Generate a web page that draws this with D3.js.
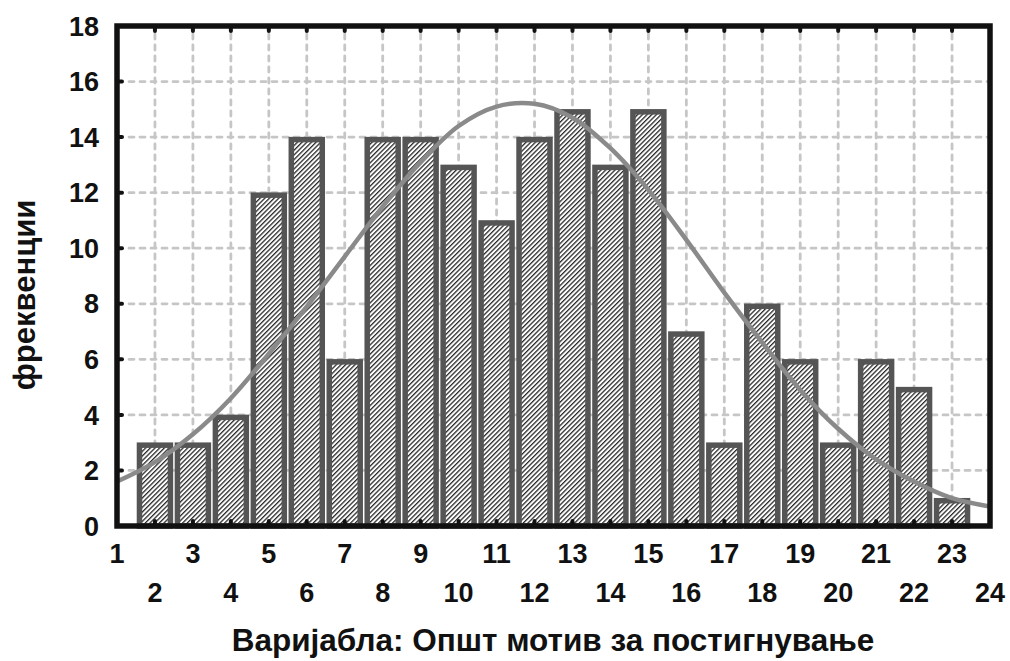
<!DOCTYPE html>
<html>
<head>
<meta charset="utf-8">
<script src="https://cdn.jsdelivr.net/npm/d3@7"></script>
<style>
  html, body { margin: 0; padding: 0; background: #fff; }
  svg { display: block; }
  text { font-family: "Liberation Sans", Arial, sans-serif; font-weight: bold; fill: #111; }
</style>
</head>
<body>
<svg id="chart" width="1010" height="661"></svg>
<script>
// Score classes (bin centres) and their frequencies
const scores = [2, 3, 4, 5, 6, 7, 8, 9, 10, 11, 12, 13, 14, 15, 16, 17, 18, 19, 20, 21, 22, 23];
const counts = [3, 3, 4, 12, 14, 6, 14, 14, 13, 11, 14, 15, 13, 15, 7, 3, 8, 6, 3, 6, 5, 1];

// Fitted normal curve, sampled at each integer score
const curveX = [1, 2, 3, 4, 5, 6, 7, 8, 9, 10, 11, 12, 13, 14, 15, 16, 17, 18, 19, 20, 21, 22, 23, 24];
const curveY = [1.6, 2.3, 3.3, 4.6, 6.2, 7.9, 9.7, 11.5, 13.1, 14.4, 15.1, 15.2, 14.7, 13.6, 12.1, 10.3, 8.4, 6.6, 4.9, 3.5, 2.4, 1.6, 1.0, 0.7];

// Axis ticks
const xTicks = d3.range(1, 25);
const yTicks = [0, 2, 4, 6, 8, 10, 12, 14, 16, 18];
const gridX = d3.range(2, 24);
const gridY = [2, 4, 6, 8, 10, 12, 14, 16];

const xTitle = "Варијабла: Општ мотив за постигнување";
const yTitle = "фреквенции";

const svg = d3.select("#chart");
const pLeft = 117, pRight = 990, pTop = 26, pBottom = 526;

const x = d3.scaleLinear().domain([1, 24]).range([pLeft, pRight]);
const y = d3.scaleLinear().domain([0, 18]).range([pBottom, pTop]);

// Diagonal hatch fill for the bars
const defs = svg.append("defs");
const pat = defs.append("pattern")
  .attr("id", "hatch")
  .attr("patternUnits", "userSpaceOnUse")
  .attr("width", 3.3).attr("height", 3.3)
  .attr("patternTransform", "rotate(45)");
pat.append("rect").attr("width", 3.3).attr("height", 3.3).attr("fill", "#fff");
pat.append("rect").attr("x", 0).attr("y", 0).attr("width", 1.3).attr("height", 3.3)
  .attr("fill", "#2a2a2a");

const clip = defs.append("clipPath").attr("id", "plotclip");
clip.append("rect").attr("x", pLeft).attr("y", pTop).attr("width", pRight - pLeft).attr("height", pBottom - pTop);

// Dashed grid
const grid = svg.append("g").attr("stroke", "#c6c6c6").attr("stroke-width", 2.8)
  .attr("stroke-dasharray", "5,6").attr("stroke-linecap", "round");
grid.selectAll("line.v").data(gridX).join("line").attr("class", "v")
  .attr("x1", d => x(d)).attr("x2", d => x(d))
  .attr("y1", pTop + 8).attr("y2", pBottom);
grid.selectAll("line.h").data(gridY).join("line").attr("class", "h")
  .attr("y1", d => y(d)).attr("y2", d => y(d))
  .attr("x1", pLeft + 12).attr("x2", pRight);

// Histogram bars
svg.append("g").selectAll("rect").data(scores).join("rect")
  .attr("x", (d) => x(d - 0.5) + 3.5)
  .attr("width", x(1.5) - x(0.5) - 7)
  .attr("y", (d, i) => y(counts[i]) + 2.5)
  .attr("height", (d, i) => y(0) - y(counts[i]) - 2.5)
  .attr("fill", "url(#hatch)")
  .attr("stroke", "#555")
  .attr("stroke-width", 5.5);

// Normal curve
const line = d3.line().x((d, i) => x(curveX[i])).y(d => y(d)).curve(d3.curveCatmullRom);
svg.append("path")
  .datum(curveY)
  .attr("clip-path", "url(#plotclip)")
  .attr("d", line)
  .attr("fill", "none")
  .attr("stroke", "#8a8a8a")
  .attr("stroke-width", 4.5);

// Inward tick marks
const ticks = svg.append("g").attr("stroke", "#111").attr("stroke-width", 4).attr("stroke-linecap", "round");
ticks.selectAll("line.t").data(gridX).join("line").attr("class", "t")
  .attr("x1", d => x(d)).attr("x2", d => x(d)).attr("y1", pTop).attr("y2", pTop + 5);
ticks.selectAll("line.b").data(gridX).join("line").attr("class", "b")
  .attr("x1", d => x(d)).attr("x2", d => x(d)).attr("y1", pBottom).attr("y2", pBottom - 5);
ticks.selectAll("line.l").data(gridY).join("line").attr("class", "l")
  .attr("y1", d => y(d)).attr("y2", d => y(d)).attr("x1", pLeft).attr("x2", pLeft + 5);

// Frame
svg.append("rect")
  .attr("x", pLeft).attr("y", pTop).attr("width", pRight - pLeft).attr("height", pBottom - pTop)
  .attr("fill", "none").attr("stroke", "#111").attr("stroke-width", 5.5);

// Axis labels
svg.append("g").selectAll("text").data(yTicks).join("text")
  .attr("x", 99).attr("y", d => y(d)).attr("dy", "0.36em")
  .attr("text-anchor", "end").attr("font-size", 27)
  .text(d => d);

svg.append("g").selectAll("text").data(xTicks).join("text")
  .attr("x", d => x(d))
  .attr("y", d => d % 2 === 1 ? 563 : 602)
  .attr("text-anchor", "middle").attr("font-size", 27)
  .text(d => d);

svg.append("text")
  .attr("x", 553).attr("y", 651)
  .attr("text-anchor", "middle").attr("font-size", 31.5)
  .text(xTitle);

svg.append("text")
  .attr("transform", "translate(35,295) rotate(-90)")
  .attr("text-anchor", "middle").attr("font-size", 31)
  .text(yTitle);
</script>
</body>
</html>
